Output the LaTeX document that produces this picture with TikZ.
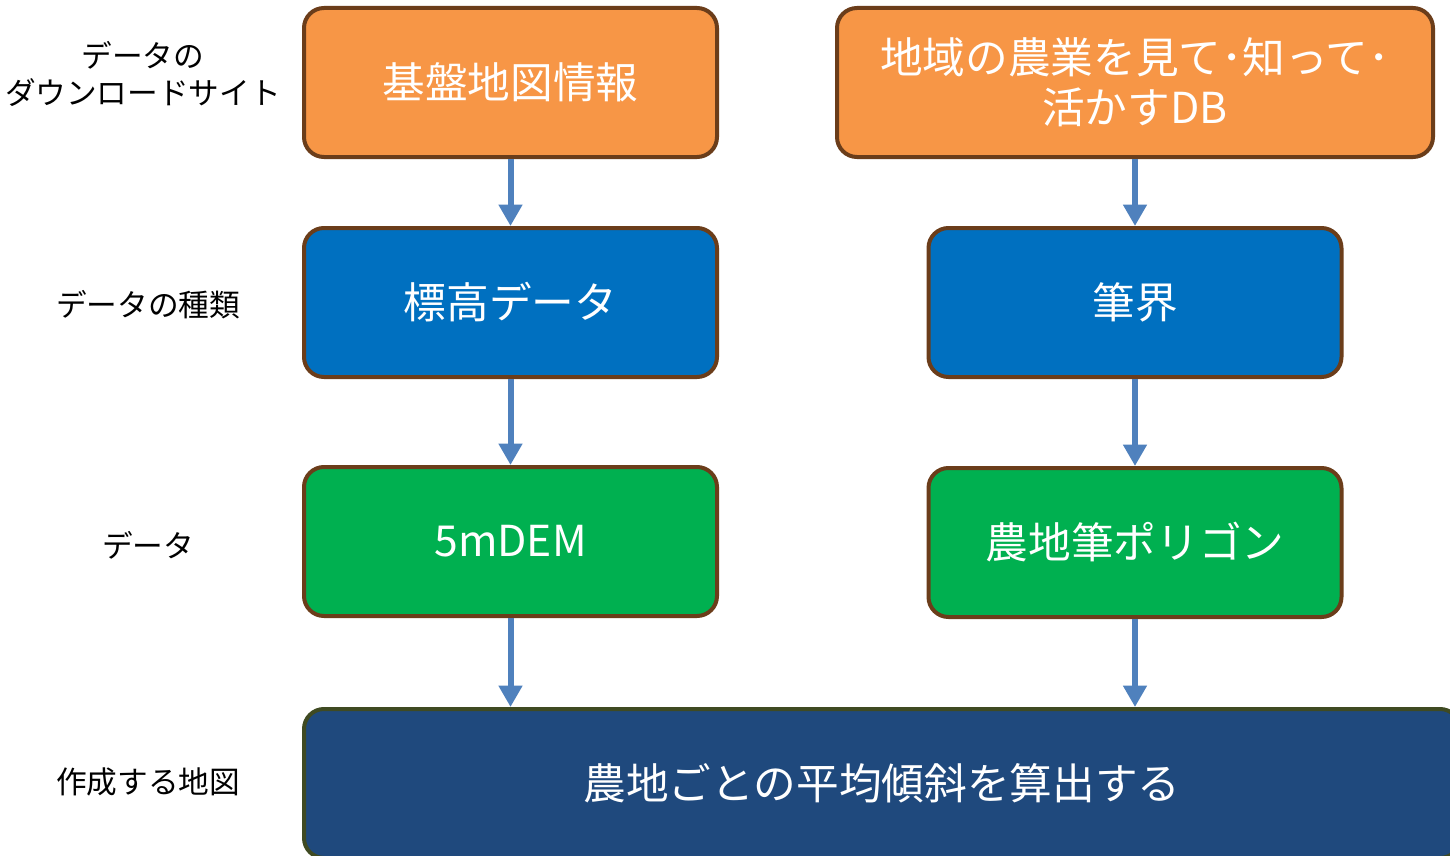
\documentclass[tikz,border=0pt]{standalone}
\usepackage{fontspec}
\setmainfont{Noto Sans CJK JP}
\usetikzlibrary{arrows.meta}
\definecolor{orangefill}{HTML}{F79646}
\definecolor{bluefill}{HTML}{0070C0}
\definecolor{greenfill}{HTML}{00B050}
\definecolor{navyfill}{HTML}{1F497D}
\definecolor{brownline}{HTML}{6B3D1A}
\definecolor{oliveline}{HTML}{3F4A22}
\definecolor{arrowblue}{HTML}{4F81BD}
\tikzset{
  box/.style={draw=brownline, line width=3pt, rounded corners=15pt,
    minimum width=309.75pt, minimum height=111.75pt, text=white,
    font=\fontsize{32}{37.5}\selectfont, align=center, inner sep=0pt},
  lbl/.style={font=\fontsize{23}{28}\selectfont, align=center, text=black},
  flow/.style={draw=arrowblue, line width=4.5pt,
    -{Triangle[width=17pt,length=16pt]}}
}
\begin{document}
\begin{tikzpicture}[x=0.75pt,y=-0.75pt]
\clip (0,0) rectangle (1450,856);
\fill[white] (0,0) rectangle (1450,856);
\node[box, fill=orangefill] (base) at (510.5,82.5) {基盤地図情報};
\node[box, fill=orangefill, minimum width=447pt] (agri) at (1135,82.5) {地域の農業を見て･知って･\\活かすDB};
\node[box, fill=bluefill] (elev) at (510.5,302.5) {標高データ};
\node[box, fill=bluefill] (fude) at (1135,302.5) {筆界};
\node[box, fill=greenfill] (dem) at (510.5,541.5) {5mDEM};
\node[box, fill=greenfill] (poly) at (1135,542.5) {農地筆ポリゴン};
\node[box, fill=navyfill, draw=oliveline, minimum width=867pt] (slope) at (882,783.5) {農地ごとの平均傾斜を算出する};
\draw[flow] (base.south) -- (elev.north);
\draw[flow] (elev.south) -- (dem.north);
\draw[flow] (dem.south) -- (dem.south |- slope.north);
\draw[flow] (agri.south) -- (fude.north);
\draw[flow] (fude.south) -- (poly.north);
\draw[flow] (poly.south) -- (poly.south |- slope.north);
\node[lbl] (l1) at (143,74) {データの\\ダウンロードサイト};
\node[lbl] (l2) at (148,305) {データの種類};
\node[lbl] (l3) at (148,545) {データ};
\node[lbl] (l4) at (148,782) {作成する地図};
\end{tikzpicture}
\end{document}
